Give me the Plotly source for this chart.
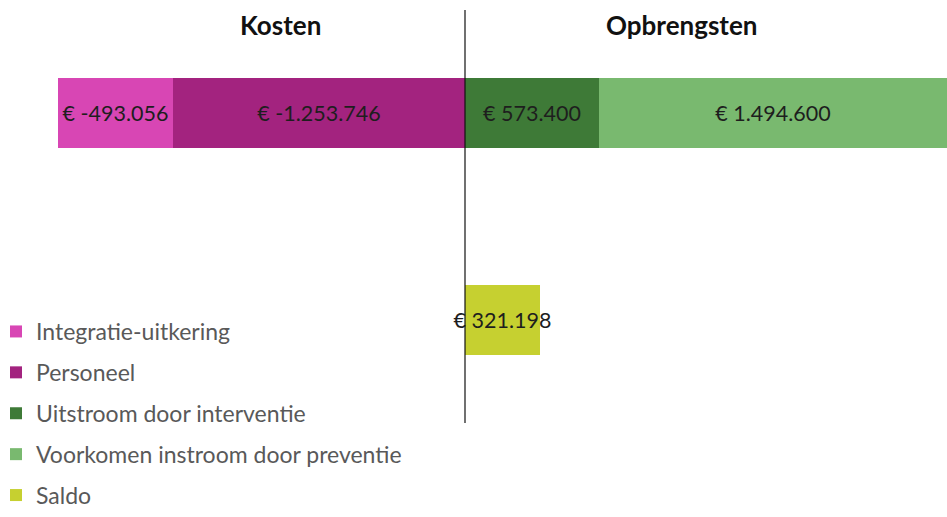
import plotly.graph_objects as go

# ---- data ----
series_names = ["Integratie-uitkering", "Personeel", "Uitstroom door interventie",
                "Voorkomen instroom door preventie", "Saldo"]
series_values = [-493056, -1253746, 573400, 1494600, 321198]
series_rows = [1, 1, 1, 1, 0]          # 1 = top bar, 0 = saldo bar
header_labels = ["Kosten", "Opbrengsten"]

colors = ["#d846b4", "#a3237f", "#3e7a37", "#79b96f", "#c6d030"]
# drawing order (stacking from zero outward): Personeel sits next to zero
draw_order = [1, 0, 2, 3, 4]

def euro(v):
    s = f"{abs(v):,}".replace(",", ".")
    return f"€ -{s}" if v < 0 else f"€ {s}"

FONT = "Lato, Open Sans, sans-serif"

fig = go.Figure()
for i in draw_order:
    name, val, row, col = series_names[i], series_values[i], series_rows[i], colors[i]
    fig.add_trace(go.Bar(
        x=[val], y=[row], orientation="h", name=name,
        marker=dict(color=col, line=dict(width=0)),
        width=0.34,
        text=[euro(val)], textposition="inside", insidetextanchor="middle",
        constraintext="none", cliponaxis=False,
        textfont=dict(family=FONT, size=21.5, color="#1e1e1e"),
        legendgroup=f"g{i}", legendrank=i + 1,
        hoverinfo="name+x",
    ))

W, H = 947, 517
zero_px = 465
pos_total = sum(v for v, r in zip(series_values, series_rows) if v > 0 and r == 1)
xmax = pos_total * 1.001
xmin = -xmax * zero_px / (W - zero_px)

fig.update_layout(
    width=W, height=H,
    barmode="relative",
    bargap=0,
    margin=dict(l=0, r=0, t=0, b=0),
    paper_bgcolor="white", plot_bgcolor="white",
    xaxis=dict(range=[xmin, xmax], visible=False, fixedrange=True),
    yaxis=dict(range=[-0.952, 1.546], visible=False, fixedrange=True),
    showlegend=True,
    legend=dict(
        x=0, xanchor="left", y=0, yanchor="bottom",
        indentation=-4,
        font=dict(family=FONT, size=23, color="#595959"),
        traceorder="grouped", tracegroupgap=8,
        bgcolor="rgba(0,0,0,0)", itemclick=False, itemdoubleclick=False,
    ),
    shapes=[dict(type="line", xref="x", yref="paper", x0=0, x1=0,
                 y0=(H - 423) / H, y1=(H - 10) / H,
                 line=dict(color="#111111", width=1.2), layer="above")],
    annotations=[
        dict(text=f"<b>{header_labels[0]}</b>", xref="paper", yref="paper",
             x=280 / W, y=1 - 25 / H, xanchor="center", yanchor="middle",
             showarrow=False, font=dict(family=FONT, size=26, color="#111111")),
        dict(text=f"<b>{header_labels[1]}</b>", xref="paper", yref="paper",
             x=681 / W, y=1 - 25 / H, xanchor="center", yanchor="middle",
             showarrow=False, font=dict(family=FONT, size=26, color="#111111")),
    ],
)

fig.write_html("out.html", config={"displayModeBar": False},
               post_script="document.body.style.margin='0';")
